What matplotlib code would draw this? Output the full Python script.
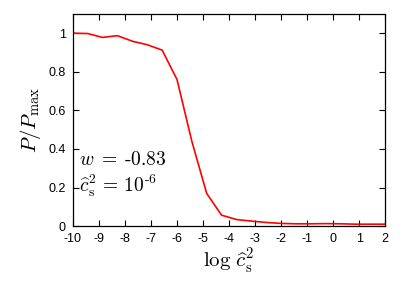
import numpy as np
import matplotlib
matplotlib.use("Agg")
import matplotlib.pyplot as plt

# data
log_cs2 = [-10.0, -9.43, -8.86, -8.29, -7.71, -7.14, -6.57, -6.0, -5.43, -4.86,
           -4.29, -3.71, -3.14, -2.57, -2.0, -1.43, -0.86, -0.29, 0.29, 0.86, 1.43, 2.0]
p_ratio = [1.0, 0.998, 0.978, 0.987, 0.958, 0.94, 0.912, 0.76, 0.44, 0.17,
           0.057, 0.034, 0.026, 0.019, 0.014, 0.012, 0.012, 0.013, 0.012, 0.010, 0.010, 0.010]
xticks = list(range(-10, 3))
yticks = [0, 0.2, 0.4, 0.6, 0.8, 1]
ytick_labels = ["0", "0.2", "0.4", "0.6", "0.8", "1"]

plt.rcParams['mathtext.fontset'] = 'cm'
plt.rcParams['axes.unicode_minus'] = False
plt.rcParams['font.family'] = ['Liberation Sans', 'DejaVu Sans']

fig = plt.figure(figsize=(4.05, 2.83), dpi=100)
ax = fig.add_axes([0.180, 0.201, 0.771, 0.750])
ax.plot(log_cs2, p_ratio, color='#ff0000', lw=1.2)
ax.set_xlim(-10, 2)
ax.set_ylim(0, 1.1)
ax.set_xticks(xticks)
ax.set_xticklabels([str(t) for t in xticks])
ax.set_yticks(yticks)
ax.set_yticklabels(ytick_labels)
ax.tick_params(direction='in', top=True, right=True, length=4, width=0.8,
               labelsize=9, pad=5)
for s in ax.spines.values():
    s.set_linewidth(0.9)
ax.set_xlabel(r'$\log\,\widehat{c}_{\rm s}^2$', fontsize=15, labelpad=1)
ax.set_ylabel(r'$P/P_{\rm max}$', fontsize=15, labelpad=4)
ax.text(0.02, 0.287, r'$w\;=\;\text{-0.83}$', transform=ax.transAxes, fontsize=14)
ax.text(0.02, 0.16, r'$\widehat{c}_{\rm s}^2\,=\,10^{\text{-6}}$', transform=ax.transAxes, fontsize=14)
fig.savefig('out.png', dpi=100)
